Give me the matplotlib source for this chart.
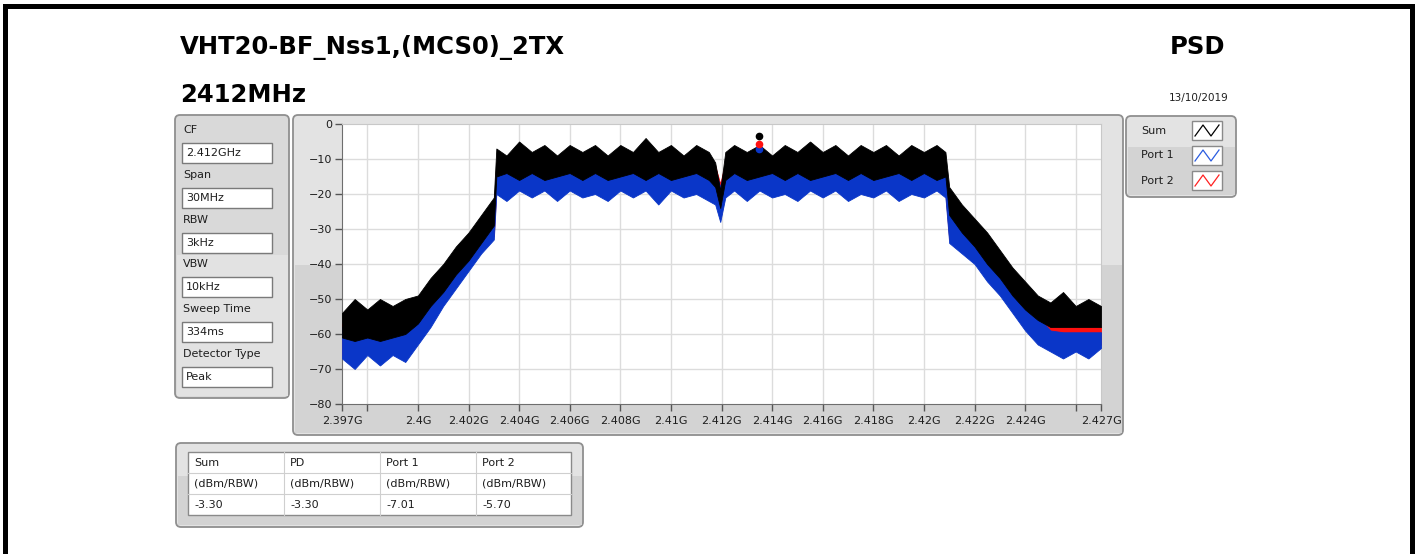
import matplotlib.pyplot as plt
from matplotlib.patches import FancyBboxPatch, Rectangle

W, H = 1419, 554

# spectrum envelopes (MHz, dBm)
freq_mhz = [2397.0, 2397.5, 2398.0, 2398.5, 2399.0, 2399.5, 2400.0, 2400.5, 2401.0, 2401.5,
            2402.0, 2402.5, 2403.0, 2403.1, 2403.5, 2404.0, 2404.5, 2405.0, 2405.5, 2406.0,
            2406.5, 2407.0, 2407.5, 2408.0, 2408.5, 2409.0, 2409.5, 2410.0, 2410.5, 2411.0,
            2411.5, 2411.75, 2411.95, 2412.15, 2412.5, 2413.0, 2413.5, 2414.0, 2414.5, 2415.0,
            2415.5, 2416.0, 2416.5, 2417.0, 2417.5, 2418.0, 2418.5, 2419.0, 2419.5, 2420.0,
            2420.5, 2420.85, 2421.0, 2421.5, 2422.0, 2422.5, 2423.0, 2423.5, 2424.0, 2424.5,
            2425.0, 2425.5, 2426.0, 2426.5, 2427.0]

sum_hi = [-54, -50, -53, -50, -52, -50, -49, -44, -40, -35,
          -31, -26, -21, -7, -9, -5, -8, -6, -9, -6,
          -8, -6, -9, -6, -8, -4, -8, -6, -9, -6,
          -8, -11, -19, -8, -6, -8, -6, -9, -6, -8,
          -5, -8, -6, -9, -6, -8, -6, -9, -6, -8,
          -6, -8, -18, -23, -27, -31, -36, -41, -45, -49,
          -51, -48, -52, -50, -52]
sum_lo = [-61, -62, -61, -62, -61, -60, -57, -52, -48, -43,
          -39, -34, -29, -15, -14, -16, -14, -16, -15, -14,
          -16, -14, -16, -15, -14, -16, -14, -16, -15, -14,
          -16, -18, -24, -16, -14, -16, -15, -14, -16, -14,
          -16, -15, -14, -16, -14, -16, -15, -14, -16, -14,
          -16, -15, -26, -31, -35, -40, -44, -49, -53, -56,
          -58, -58, -58, -58, -58]

port1_hi = [-58, -58, -58, -58, -58, -58, -54, -49, -44, -39,
            -34, -30, -25, -12, -12, -12, -12, -12, -12, -12,
            -12, -12, -12, -12, -12, -12, -12, -12, -12, -12,
            -12, -13, -18, -12, -12, -12, -12, -12, -12, -12,
            -12, -12, -12, -12, -12, -12, -12, -12, -12, -12,
            -12, -12, -24, -28, -32, -36, -41, -46, -51, -55,
            -59, -59.5, -59.5, -59.5, -59.5]
port1_lo = [-67, -70, -66, -69, -66, -68, -63, -58, -52, -47,
            -42, -37, -33, -20, -22, -19, -21, -19, -22, -19,
            -21, -20, -22, -19, -21, -19, -23, -19, -21, -20,
            -22, -23, -28, -21, -19, -22, -19, -21, -20, -22,
            -19, -21, -19, -22, -20, -21, -19, -22, -20, -21,
            -19, -21, -34, -37, -40, -45, -49, -54, -59, -63,
            -65, -67, -65, -67, -64]

port2_hi = [-57, -57, -57, -57, -57, -57, -53, -48, -43, -38,
            -33, -29, -24, -11, -11, -11, -11, -11, -11, -11,
            -11, -11, -11, -11, -11, -11, -11, -11, -11, -11,
            -11, -12, -17, -11, -11, -11, -11, -11, -11, -11,
            -11, -11, -11, -11, -11, -11, -11, -11, -11, -11,
            -11, -11, -23, -27, -31, -35, -40, -45, -49, -53,
            -57.5, -58, -58, -58, -58]
port2_lo = [-66, -69, -65, -68, -65, -67, -62, -57, -51, -46,
            -41, -36, -32, -19, -21, -18, -20, -18, -21, -18,
            -20, -19, -21, -18, -20, -18, -22, -18, -20, -19,
            -21, -22, -27, -20, -18, -21, -18, -20, -19, -21,
            -18, -20, -18, -21, -19, -20, -18, -21, -19, -20,
            -18, -20, -33, -36, -39, -44, -48, -53, -58, -62,
            -64, -66, -64, -66, -63]

marker_mhz = 2413.5
marker_sum, marker_p1, marker_p2 = -3.30, -7.01, -5.70

param_labels = ["CF", "Span", "RBW", "VBW", "Sweep Time", "Detector Type"]
param_values = ["2.412GHz", "30MHz", "3kHz", "10kHz", "334ms", "Peak"]

legend_names = ["Sum", "Port 1", "Port 2"]
legend_colors = ["black", "#2a5ce0", "#ff2020"]

table_headers = ["Sum", "PD", "Port 1", "Port 2"]
table_units = ["(dBm/RBW)"] * 4
table_values = ["-3.30", "-3.30", "-7.01", "-5.70"]

xtick_mhz = [2397, 2398, 2400, 2402, 2404, 2406, 2408, 2410, 2412, 2414, 2416, 2418,
             2420, 2422, 2424, 2426, 2427]
xtick_labels = ["2.397G", "", "2.4G", "2.402G", "2.404G", "2.406G", "2.408G", "2.41G",
                "2.412G", "2.414G", "2.416G", "2.418G", "2.42G", "2.422G", "2.424G", "",
                "2.427G"]
ytick_vals = [0, -10, -20, -30, -40, -50, -60, -70, -80]

fig = plt.figure(figsize=(W / 100, H / 100), dpi=100)
fig.patch.set_facecolor("white")

# background canvas in pixel coordinates
bg = fig.add_axes([0, 0, 1, 1])
bg.set_xlim(0, W)
bg.set_ylim(H, 0)
bg.axis("off")
bg.set_zorder(0)

txt = dict(fontsize=8, color="#1e1e1e", family="DejaVu Sans", va="center")


def panel(x, y, w, h, split, top="#e3e3e3", bottom="#d3d3d3"):
    bg.add_patch(FancyBboxPatch((x, y), w, h, boxstyle="round,pad=0,rounding_size=5",
                                fc=top, ec="#8f8f8f", lw=1.3))
    bg.add_patch(Rectangle((x + 1.5, split), w - 3, y + h - split - 2, fc=bottom, ec="none"))


# black frame of the screenshot
bg.add_patch(Rectangle((3, 4), 1412, 5, fc="black", ec="none"))
bg.add_patch(Rectangle((3, 4), 5, 550, fc="black", ec="none"))
bg.add_patch(Rectangle((1410, 4), 5, 550, fc="black", ec="none"))

# titles
bg.text(180, 47, "VHT20-BF_Nss1,(MCS0)_2TX", fontsize=17.5, fontweight="bold", va="center")
bg.text(180, 95, "2412MHz", fontsize=17.5, fontweight="bold", va="center")
bg.text(1225, 47, "PSD", fontsize=17.5, fontweight="bold", va="center", ha="right")
bg.text(1229, 98, "13/10/2019", fontsize=7.5, va="center", ha="right", color="#1e1e1e")

# parameter cluster
panel(175, 115, 114, 283, 255, top="#d9d9d9", bottom="#e2e2e2")
for i, (lab, val) in enumerate(zip(param_labels, param_values)):
    y0 = 130 + i * 44.8
    bg.text(183, y0, lab, **txt)
    bg.add_patch(Rectangle((182, y0 + 13), 90, 20, fc="white", ec="#7a7a7a", lw=1))
    bg.text(186, y0 + 23, val, **txt)

# graph panel
panel(293, 115, 830, 320, 265)

# legend cluster
panel(1126, 116, 110, 81, 147)
for i, (name, col) in enumerate(zip(legend_names, legend_colors)):
    y0 = 121 + i * 25
    bg.text(1141, y0 + 9.5, name, **txt)
    bg.add_patch(Rectangle((1192, y0), 30, 19, fc="white", ec="#8a8a8a", lw=1))
    bg.plot([1195, 1203, 1211, 1219], [y0 + 15, y0 + 4, y0 + 15, y0 + 4], color=col, lw=0.9)

# results table
panel(176, 443, 407, 84, 476)
bg.add_patch(Rectangle((188, 452), 383, 63, fc="white", ec="#8a8a8a", lw=1))
col_x = [188, 284, 380, 476, 571]
for yl in [473, 494]:
    bg.plot([188, 571], [yl, yl], color="#cfcfcf", lw=0.8)
for xl in col_x[1:-1]:
    bg.plot([xl, xl], [452, 515], color="#cfcfcf", lw=0.8)
for j in range(4):
    bg.text(col_x[j] + 6, 463, table_headers[j], **txt)
    bg.text(col_x[j] + 6, 484, table_units[j], **txt)
    bg.text(col_x[j] + 6, 505, table_values[j], **txt)

# spectrum graph
ax = fig.add_axes([342 / W, 1 - 404 / H, (1101 - 342) / W, (404 - 124) / H])
ax.set_zorder(2)
ax.set_facecolor("white")

ax.fill_between(freq_mhz, port2_lo, port2_hi, color="#ff1010", lw=0.6, zorder=3)
ax.fill_between(freq_mhz, port1_lo, port1_hi, color="#0a36c8", lw=0.6, zorder=4)
ax.fill_between(freq_mhz, sum_lo, sum_hi, color="black", lw=0.6, zorder=5)
ax.plot([marker_mhz], [marker_p1], "o", color="#0a36c8", ms=4.5, zorder=6)
ax.plot([marker_mhz], [marker_p2], "o", color="#ff1010", ms=4.5, zorder=7)
ax.plot([marker_mhz], [marker_sum], "o", color="black", ms=4.5, zorder=8)

ax.set_xlim(2397, 2427)
ax.set_ylim(-80, 0)
ax.set_xticks(xtick_mhz)
ax.set_xticklabels(xtick_labels)
ax.set_yticks(ytick_vals)
ax.tick_params(axis="both", labelsize=8, labelcolor="#1e1e1e", color="#555555",
               length=5, width=1, direction="out", pad=2)
ax.tick_params(axis="x", pad=4)

for v in range(2398, 2427, 2):
    ax.axvline(v, color="#dcdcdc", lw=1, zorder=1)
for v in ytick_vals[1:-1]:
    ax.axhline(v, color="#dcdcdc", lw=1, zorder=1)

for s in ["top", "right"]:
    ax.spines[s].set_color("#c8c8c8")
for s in ["left", "bottom"]:
    ax.spines[s].set_color("#6e6e6e")

fig.savefig("out.png", dpi=100)
